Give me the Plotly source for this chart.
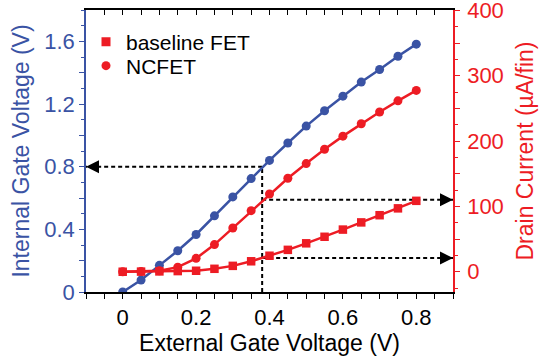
import plotly.graph_objects as go

# ---- data ----
ext_gate_v = [0.0, 0.05, 0.1, 0.15, 0.2, 0.25, 0.3, 0.35, 0.4, 0.45,
              0.5, 0.55, 0.6, 0.65, 0.7, 0.75, 0.8]
internal_gate_v = [0.0, 0.076, 0.17, 0.263, 0.367, 0.486, 0.607, 0.724, 0.84,
                   0.951, 1.059, 1.157, 1.25, 1.34, 1.42, 1.505, 1.582]
ncfet_current = [0.0, 0.5, 1.5, 7.0, 20.5, 41.5, 67.0, 93.5, 119.0, 143.0,
                 165.5, 187.5, 207.5, 226.5, 244.5, 261.5, 277.5]
baseline_current = [0.0, 0.2, 0.5, 1.0, 1.5, 4.5, 9.0, 16.0, 24.5, 33.5,
                    43.5, 53.5, 64.5, 75.5, 86.5, 97.0, 108.5]

# guide (arrow) values
guide_x = 0.38
guide_vint = 0.8
guide_currents = [110.0, 21.0]

x_ticks = [-0.1, -0.05, 0.0, 0.05, 0.1, 0.15, 0.2, 0.25, 0.3, 0.35, 0.4, 0.45,
           0.5, 0.55, 0.6, 0.65, 0.7, 0.75, 0.8, 0.85, 0.9]
x_ticktext = ["", "", "0", "", "", "", "0.2", "", "", "", "0.4", "", "",
              "", "0.6", "", "", "", "0.8", "", ""]
left_ticks = [0, 0.2, 0.4, 0.6, 0.8, 1.0, 1.2, 1.4, 1.6]
left_ticktext = ["0", "", "0.4", "", "0.8", "", "1.2", "", "1.6"]
right_ticks = [0, 50, 100, 150, 200, 250, 300, 350, 400]
right_ticktext = ["0", "", "100", "", "200", "", "300", "", "400"]

BLUE = "#3A53A4"
RED = "#ED1C24"
FONT = "Liberation Sans, Arial, sans-serif"
X_RANGE = [-0.1, 0.9]

fig = go.Figure()

# dashed guide lines
fig.add_trace(go.Scatter(x=[guide_x, guide_x], y=[0, guide_vint], mode="lines",
                         line=dict(color="black", width=2, dash="4px,3px"),
                         showlegend=False, hoverinfo="skip"))
fig.add_trace(go.Scatter(x=[guide_x, X_RANGE[0]], y=[guide_vint, guide_vint], mode="lines",
                         line=dict(color="black", width=2, dash="4px,3px"),
                         showlegend=False, hoverinfo="skip"))
for c in guide_currents:
    fig.add_trace(go.Scatter(x=[guide_x, X_RANGE[1]], y=[c, c], mode="lines", yaxis="y2",
                             line=dict(color="black", width=2, dash="4px,3px"),
                             showlegend=False, hoverinfo="skip"))

# data series
fig.add_trace(go.Scatter(x=ext_gate_v, y=internal_gate_v, mode="lines+markers",
                         line=dict(color=BLUE, width=2.5),
                         marker=dict(color=BLUE, size=9, symbol="circle"),
                         showlegend=False))
fig.add_trace(go.Scatter(x=ext_gate_v, y=ncfet_current, mode="lines+markers", yaxis="y2",
                         line=dict(color=RED, width=2.5),
                         marker=dict(color=RED, size=9, symbol="circle"),
                         showlegend=False))
fig.add_trace(go.Scatter(x=ext_gate_v, y=baseline_current, mode="lines+markers", yaxis="y2",
                         line=dict(color=RED, width=2.5),
                         marker=dict(color=RED, size=8.5, symbol="square"),
                         showlegend=False))

# legend entries (markers only), one legend box each for tight spacing
fig.add_trace(go.Scatter(x=[None], y=[None], mode="markers", name="baseline FET",
                         legend="legend",
                         marker=dict(color=RED, size=9, symbol="square")))
fig.add_trace(go.Scatter(x=[None], y=[None], mode="markers", name="NCFET",
                         legend="legend2",
                         marker=dict(color=RED, size=9, symbol="circle")))

# top axis carrier
fig.add_trace(go.Scatter(x=[None], y=[None], xaxis="x2", showlegend=False, hoverinfo="skip"))

# arrowheads
anns = [dict(x=X_RANGE[0], y=guide_vint, xref="x", yref="y", ax=14, ay=0,
             showarrow=True, arrowhead=2, arrowsize=1.3, arrowwidth=2,
             arrowcolor="black", text="")]
for c in guide_currents:
    anns.append(dict(x=X_RANGE[1], y=c, xref="x", yref="y2", ax=-14, ay=0,
                     showarrow=True, arrowhead=2, arrowsize=1.3, arrowwidth=2,
                     arrowcolor="black", text=""))

legend_common = dict(xanchor="left", yanchor="middle", bgcolor="rgba(0,0,0,0)",
                     font=dict(size=21, color="black"), itemwidth=30,
                     borderwidth=0)

fig.update_layout(
    width=539, height=360,
    margin=dict(l=86, r=86, t=10, b=68),
    plot_bgcolor="white", paper_bgcolor="white",
    font=dict(family=FONT, size=22, color="black"),
    annotations=anns,
    showlegend=True,
    legend=dict(x=0.0, y=1 - (42 - 10) / 282, **legend_common),
    legend2=dict(x=0.0, y=1 - (66 - 10) / 282, **legend_common),
    xaxis=dict(range=X_RANGE, tickmode="array", tickvals=x_ticks, ticktext=x_ticktext,
               ticks="outside", ticklen=5, tickwidth=1, tickcolor="black",
               showline=True, linecolor="black", linewidth=1.5,
               showgrid=False, zeroline=False, automargin=False,
               tickfont=dict(size=22, color="black"),
               title=dict(text="External Gate Voltage (V)", font=dict(size=23, color="black"),
                          standoff=3)),
    xaxis2=dict(range=X_RANGE, overlaying="x", side="top", anchor="y",
                tickmode="array", tickvals=x_ticks, showticklabels=False,
                ticks="inside", ticklen=5, tickwidth=1, tickcolor="black",
                showline=True, linecolor="black", linewidth=1.5, automargin=False,
                showgrid=False, zeroline=False),
    yaxis=dict(range=[0, 1.8], tickmode="array", tickvals=left_ticks, ticktext=left_ticktext,
               ticks="outside", ticklen=5, tickwidth=1, tickcolor=BLUE,
               minor=dict(dtick=0.1, tick0=0, ticks="outside", ticklen=3, tickcolor=BLUE),
               showline=True, linecolor=BLUE, linewidth=1.5,
               showgrid=False, zeroline=False, automargin=False,
               tickfont=dict(size=22, color=BLUE),
               title=dict(text="Internal Gate Voltage (V)", font=dict(size=23, color=BLUE),
                          standoff=8)),
    yaxis2=dict(range=[-31, 400.5], overlaying="y", side="right", anchor="x",
                tickmode="array", tickvals=right_ticks, ticktext=right_ticktext,
                ticks="outside", ticklen=5, tickwidth=1, tickcolor=RED,
                minor=dict(dtick=25, tick0=0, ticks="outside", ticklen=3, tickcolor=RED),
                showline=True, linecolor=RED, linewidth=1.5,
                showgrid=False, zeroline=False, ticklabeloverflow="allow",
                ticklabelstandoff=3, automargin=False,
                tickfont=dict(size=22, color=RED),
                title=dict(text="Drain Current (µA/fin)", font=dict(size=23, color=RED),
                           standoff=14)),
)

fig.write_html("out.html")
